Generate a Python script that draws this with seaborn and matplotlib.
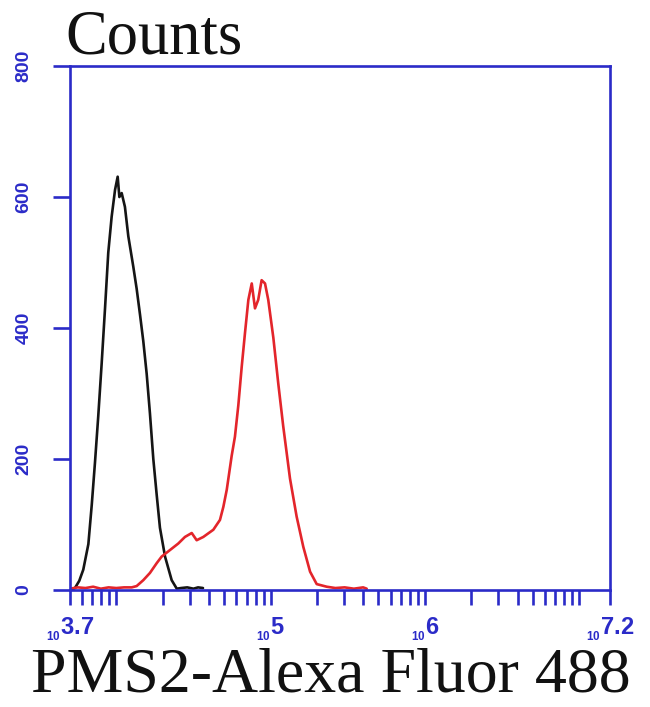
import numpy as np
import pandas as pd
import matplotlib
matplotlib.use("Agg")
import matplotlib.pyplot as plt
import seaborn as sns

# ---- data (x in log10 fluorescence units, y in counts) ----
control_log10 = [3.700, 3.732, 3.760, 3.786, 3.819, 3.841, 3.862, 3.883, 3.905, 3.927,
                 3.948, 3.970, 3.992, 4.009, 4.020, 4.035, 4.056, 4.078, 4.110, 4.132,
                 4.154, 4.175, 4.197, 4.218, 4.240, 4.262, 4.283, 4.316, 4.359, 4.392,
                 4.420, 4.460, 4.500, 4.530, 4.562]
control_counts = [0, 3, 14, 31, 70, 130, 195, 265, 345, 430,
                  515, 570, 611, 631, 600, 606, 585, 540, 494, 460,
                  420, 380, 330, 270, 200, 145, 95, 51, 15, 2,
                  3, 4, 2, 4, 3]

pms2_log10 = [3.700, 3.750, 3.800, 3.850, 3.900, 3.950, 4.000, 4.050, 4.100, 4.132,
              4.175, 4.218, 4.262, 4.294, 4.348, 4.402, 4.445, 4.489, 4.521, 4.564,
              4.629, 4.672, 4.694, 4.716, 4.748, 4.769, 4.791, 4.813, 4.834, 4.856,
              4.878, 4.899, 4.920, 4.942, 4.964, 4.985, 5.018, 5.050, 5.082, 5.126,
              5.169, 5.212, 5.256, 5.299, 5.364, 5.420, 5.480, 5.540, 5.600, 5.623]
pms2_counts = [2, 4, 3, 5, 2, 4, 3, 4, 4, 6,
               15, 26, 41, 51, 61, 71, 81, 87, 76, 81,
               92, 107, 127, 153, 205, 234, 282, 341, 392, 443,
               468, 430, 443, 473, 468, 443, 385, 315, 250, 170,
               112, 66, 28, 9, 5, 3, 4, 2, 4, 2]

x_limits = (3.7, 7.2)
y_limits = (0, 800)
y_ticks = [0, 200, 400, 600, 800]
x_label_exponents = [3.7, 5, 6, 7.2]
x_label_texts = ["3.7", "5", "6", "7.2"]
title_text = "Counts"
xlabel_text = "PMS2-Alexa Fluor 488"

BLUE = "#2b2bc8"

sns.set_theme(style="white")
plt.rcParams["font.family"] = ["Liberation Sans", "DejaVu Sans"]
plt.rcParams["mathtext.fontset"] = "custom"
plt.rcParams["mathtext.rm"] = "Liberation Sans:bold"
plt.rcParams["mathtext.it"] = "Liberation Sans:bold"
plt.rcParams["mathtext.bf"] = "Liberation Sans:bold"

df = pd.concat([
    pd.DataFrame({"log10": control_log10, "count": control_counts, "sample": "control"}),
    pd.DataFrame({"log10": pms2_log10, "count": pms2_counts, "sample": "PMS2"}),
], ignore_index=True)

fig = plt.figure(figsize=(6.5, 7.07), dpi=100)
ax = fig.add_axes([70 / 650, 117 / 707, 540 / 650, 524 / 707])

sns.lineplot(data=df, x="log10", y="count", hue="sample",
             palette={"control": "#151515", "PMS2": "#e3252b"},
             linewidth=1.9, legend=False, ax=ax, estimator=None)

ax.set_xlim(*x_limits)
ax.set_ylim(*y_limits)
ax.set_xlabel("")
ax.set_ylabel("")

for s in ax.spines.values():
    s.set_color(BLUE)
    s.set_linewidth(1.9)
    s.set_visible(True)

# y ticks
ax.set_yticks(y_ticks)
ax.set_yticklabels([str(v) for v in y_ticks], rotation=90, va="center",
                   fontsize=14, fontweight="bold", color=BLUE)
ax.tick_params(axis="y", direction="out", length=12, width=1.9, color=BLUE, pad=15, left=True)

# x ticks (log-decade ticks)
minor_pos = []
for n in range(3, 8):
    for k in range(1, 10):
        v = np.log10(k * 10 ** n)
        if x_limits[0] - 1e-3 <= v <= x_limits[1] + 1e-3:
            minor_pos.append(v)
ax.set_xticks(x_label_exponents)
ax.set_xticklabels([r"$_{_{10}}$" + t for t in x_label_texts],
                   fontsize=17, fontweight="bold", color=BLUE)
ax.set_xticks(minor_pos, minor=True)
ax.tick_params(axis="x", which="both", direction="out", length=11, width=1.9,
               color=BLUE, pad=7, bottom=True)

fig.text(65 / 650, (707 - 53) / 707, title_text, family="Liberation Serif",
         fontsize=45, color="#111111", ha="left", va="baseline")
fig.text(331 / 650, 15 / 707, xlabel_text, family="Liberation Serif",
         fontsize=46, color="#111111", ha="center", va="baseline")

fig.savefig("out.png", dpi=100, facecolor="white")
